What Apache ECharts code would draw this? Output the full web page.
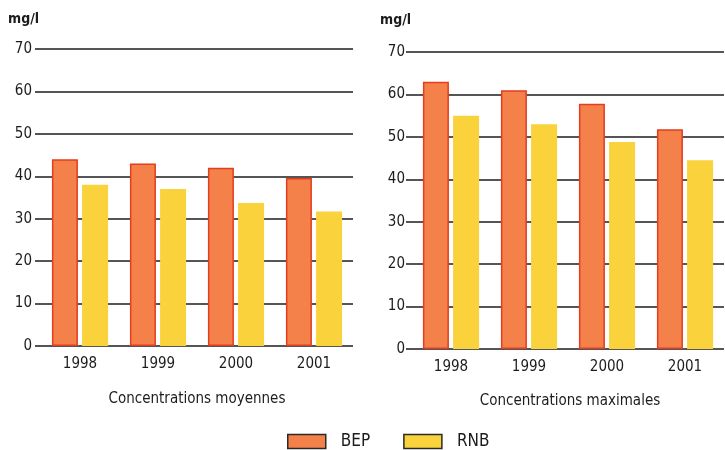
<!DOCTYPE html>
<html>
<head>
<meta charset="utf-8">
<script src="https://cdn.jsdelivr.net/npm/echarts@6/dist/echarts.min.js"></script>
<style>
  html, body { margin: 0; padding: 0; background: #ffffff; }
  #chart { width: 725px; height: 450px; }
</style>
</head>
<body>
<div id="chart"></div>
<script>
// Nitrate concentrations per year (mg/l)
const years = ['1998', '1999', '2000', '2001'];
const seriesNames = ['BEP', 'RNB'];
const bepMean = [44, 43, 42, 39.6];
const rnbMean = [38, 37, 33.7, 31.7];
const bepMax = [63, 61, 57.8, 51.8];
const rnbMax = [55, 53, 48.8, 44.5];
const yTicks = { min: 0, max: 70, interval: 10 };
const panelTitles = ['Concentrations moyennes', 'Concentrations maximales'];
const unitLabel = 'mg/l';

const FONT = '"DejaVu Sans Condensed", "Liberation Sans Narrow", sans-serif';
const INK = '#1c1c1c';
const ORANGE = '#f5814a';
const ORANGE_EDGE = '#e43d1f';
const YELLOW = '#f9d23c';

const grids = [
  { left: 41, top: 49, width: 312, height: 297 },
  { left: 412, top: 52, width: 312, height: 297 }
];

function xAxis(gridIndex) {
  return {
    type: 'category', gridIndex, data: years,
    axisLine: { show: false },
    axisTick: { show: false },
    axisLabel: { color: INK, fontFamily: FONT, fontSize: 15, margin: 11 }
  };
}

function yAxis(gridIndex, margin) {
  return {
    type: 'value', gridIndex,
    min: yTicks.min, max: yTicks.max, interval: yTicks.interval,
    axisLine: { show: false },
    axisTick: { show: true, length: 6, lineStyle: { color: INK, width: 1.5 } },
    splitLine: { show: true, lineStyle: { color: INK, width: 1.5 } },
    axisLabel: { color: INK, fontFamily: FONT, fontSize: 15, margin: margin }
  };
}

function bep(values, idx) {
  return {
    name: seriesNames[0], type: 'bar', xAxisIndex: idx, yAxisIndex: idx,
    data: values, barWidth: 26, barGap: '16%',
    itemStyle: { color: ORANGE, borderColor: ORANGE_EDGE, borderWidth: 1.5 },
    z: 3
  };
}
function rnb(values, idx) {
  return {
    name: seriesNames[1], type: 'bar', xAxisIndex: idx, yAxisIndex: idx,
    data: values, barWidth: 26,
    itemStyle: { color: YELLOW },
    z: 3
  };
}

const titleStyle = { color: INK, fontFamily: FONT, fontSize: 15, fontWeight: 'normal' };
const unitStyle = { color: INK, fontFamily: FONT, fontSize: 14, fontWeight: 'bold' };

const chart = echarts.init(document.getElementById('chart'), null, { renderer: 'canvas' });
chart.setOption({
  backgroundColor: '#ffffff',
  animation: false,
  grid: grids,
  xAxis: [xAxis(0), xAxis(1)],
  yAxis: [yAxis(0, 9), yAxis(1, 7)],
  title: [
    { text: unitLabel, left: 3, top: 7, textStyle: unitStyle },
    { text: unitLabel, left: 375, top: 8, textStyle: unitStyle },
    { text: panelTitles[0], left: 192, top: 387, textAlign: 'center', textStyle: titleStyle },
    { text: panelTitles[1], left: 565, top: 389, textAlign: 'center', textStyle: titleStyle }
  ],
  legend: {
    data: seriesNames,
    left: 282, top: 428,
    itemWidth: 38, itemHeight: 14, itemGap: 33,
    icon: 'rect',
    textStyle: { color: INK, fontFamily: FONT, fontSize: 17, padding: [0, 0, 0, 10] },
    itemStyle: { borderColor: '#2a2a2a', borderWidth: 1.5 },
    selectedMode: false
  },
  series: [bep(bepMean, 0), rnb(rnbMean, 0), bep(bepMax, 1), rnb(rnbMax, 1)]
});
</script>
</body>
</html>
